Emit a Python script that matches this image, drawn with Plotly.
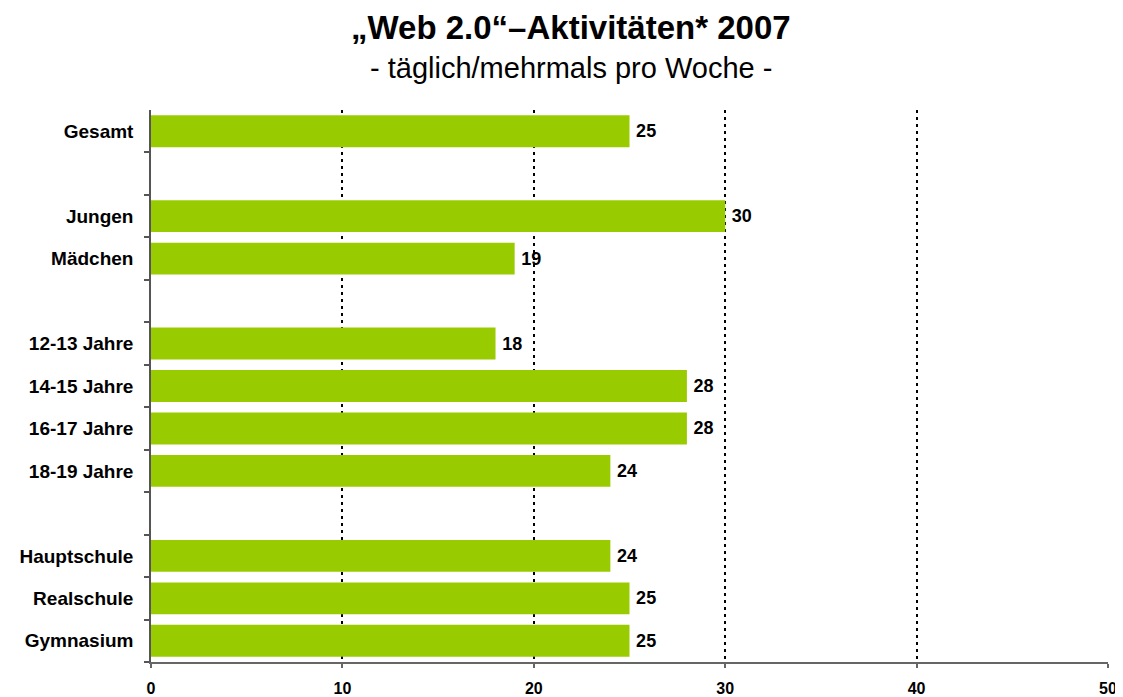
"""Horizontal bar chart: Web 2.0 activities 2007"""
import plotly.graph_objs as go

# categories top to bottom, blank slots separate the groups
categories = ['Gesamt', ' ', 'Jungen', 'Mädchen', '  ',
              '12-13 Jahre', '14-15 Jahre', '16-17 Jahre', '18-19 Jahre', '   ',
              'Hauptschule', 'Realschule', 'Gymnasium']
values = [25, None, 30, 19, None, 18, 28, 28, 24, None, 24, 25, 25]
labels = ['' if v is None else str(v) for v in values]

x_ticks = [0, 10, 20, 30, 40, 50]

font_main = 'Liberation Sans, Arial, sans-serif'

data = [go.Bar(y=categories,
               x=values,
               orientation='h',
               width=0.75,
               marker=dict(color='#99CC00', line=dict(width=0)),
               text=labels,
               textposition='outside',
               textfont=dict(family=font_main, size=18, color='black'),
               texttemplate='\u2009<b>%{text}</b>',
               cliponaxis=False,
               hoverinfo='x+y')]

# page body has an 8px margin, so the figure is 8px smaller and margins shifted
layout = go.Layout(
    width=1115, height=689,
    paper_bgcolor='white', plot_bgcolor='white',
    margin=dict(l=143, r=15, t=102, b=35),
    showlegend=False,
    font=dict(family=font_main, color='black'),
    xaxis=dict(range=[0, 50],
               tickvals=x_ticks,
               ticktext=['<b>%d</b>' % t for t in x_ticks],
               tickfont=dict(size=16),
               ticklabelstandoff=7,
               showgrid=True,
               gridcolor='black', gridwidth=2, griddash='3px,4px',
               zeroline=False,
               showline=True, linecolor='#666666', linewidth=1.5,
               ticks='outside', ticklen=4, tickcolor='#666666', tickwidth=1.5,
               automargin=False,
               fixedrange=True),
    yaxis=dict(categoryorder='array',
               categoryarray=categories[::-1],
               tickvals=categories,
               ticktext=['<b>%s</b>' % c if c.strip() else '' for c in categories],
               tickfont=dict(size=19),
               tickson='boundaries',
               ticks='outside', ticklen=5, tickcolor='#555555', tickwidth=1.5,
               showline=True, linecolor='#555555', linewidth=1.5,
               showgrid=False, zeroline=False,
               ticklabelstandoff=12,
               range=[-0.5, len(categories) - 0.5],
               automargin=False,
               fixedrange=True),
    annotations=[
        dict(text='<b>„Web 2.0“–Aktivitäten* 2007</b>',
             xref='paper', yref='paper', x=0.439, y=1.0, yshift=83,
             xanchor='center', yanchor='middle', showarrow=False,
             font=dict(size=33, family=font_main, color='black')),
        dict(text='- täglich/mehrmals pro Woche -',
             xref='paper', yref='paper', x=0.439, y=1.0, yshift=42,
             xanchor='center', yanchor='middle', showarrow=False,
             font=dict(size=29, family=font_main, color='black')),
    ])

fig = go.Figure(data=data, layout=layout)
fig.write_html('out.html')
